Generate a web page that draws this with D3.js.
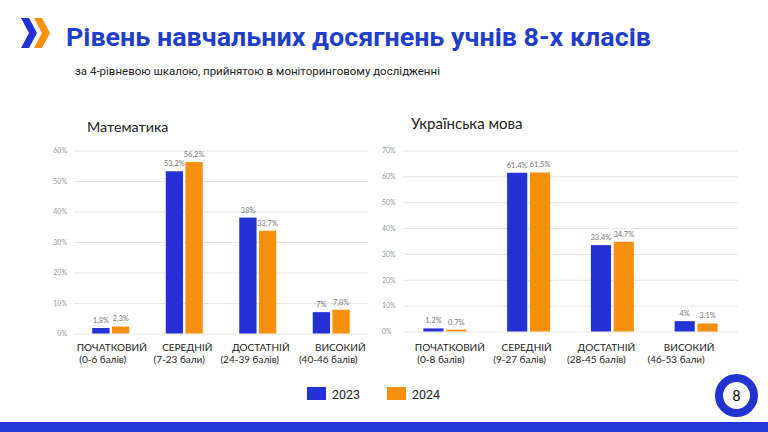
<!DOCTYPE html>
<html><head><meta charset="utf-8">
<script src="https://cdn.jsdelivr.net/npm/d3@7"></script>
<style>html,body{margin:0;padding:0;background:#fff;}svg{display:block;}</style>
</head><body>
<svg id="c" width="768" height="432"></svg>
<script>
const series = ["2023", "2024"];
const colors = ["#2431d4", "#f7900c"];

const mathCategories = ["ПОЧАТКОВИЙ", "СЕРЕДНІЙ", "ДОСТАТНІЙ", "ВИСОКИЙ"];
const mathRanges = ["(0-6 балів)", "(7-23 бали)", "(24-39 балів)", "(40-46 балів)"];
const math2023 = [1.8, 53.2, 38, 7];
const math2024 = [2.3, 56.2, 33.7, 7.8];
const mathTicks = [0, 10, 20, 30, 40, 50, 60];

const ukrCategories = ["ПОЧАТКОВИЙ", "СЕРЕДНІЙ", "ДОСТАТНІЙ", "ВИСОКИЙ"];
const ukrRanges = ["(0-8 балів)", "(9-27 балів)", "(28-45 балів)", "(46-53 бали)"];
const ukr2023 = [1.2, 61.4, 33.4, 4];
const ukr2024 = [0.7, 61.5, 34.7, 3.1];
const ukrTicks = [0, 10, 20, 30, 40, 50, 60, 70];

const svg = d3.select("#c");

// Logo chevrons
svg.append("path").attr("d","M21,18 L29,18 L37,33 L29,48 L21,48 L29,33 Z").attr("fill","#2431d4");
svg.append("path").attr("d","M34,18 L42,18 L50,33 L42,48 L34,48 L42,33 Z").attr("fill","#f7900c");

// Title
svg.append("text").attr("x",66).attr("y",46)
  .attr("font-family","Roboto").attr("font-weight","700").attr("font-size",26.5)
  .attr("textLength",585).attr("lengthAdjust","spacingAndGlyphs")
  .attr("fill","#1f3ecb").text("Рівень навчальних досягнень учнів 8-х класів");
svg.append("text").attr("x",75).attr("y",75)
  .attr("font-family","Roboto").attr("font-size",11.5).attr("fill","#222")
  .text("за 4-рівневою шкалою, прийнятою в моніторинговому дослідженні");

function chart(o){
  const g = svg.append("g");
  const x = d3.scaleBand().domain(o.cats).range([o.x0, o.x1]);
  const y = d3.scaleLinear().domain([0, o.max]).range([o.y0, o.y1]);
  const x1 = d3.scaleBand().domain(series).range([x.bandwidth()/2 - o.inner/2, x.bandwidth()/2 + o.inner/2]).paddingInner(o.pin);
  g.append("text").attr("x",o.tx).attr("y",o.ty).attr("font-family","Lato").attr("font-size",o.tfs)
    .attr("fill","#222").text(o.title);
  // grid
  g.selectAll(".grid").data(o.ticks).join("line")
    .attr("x1",o.x0).attr("x2",o.x1).attr("y1",d=>y(d)+0.5).attr("y2",d=>y(d)+0.5)
    .attr("stroke","#e6e6e6").attr("stroke-width",1);
  const yAxis = d3.axisLeft(y).tickValues(o.ticks).tickSize(0).tickFormat(d=>d+"%");
  const ya = g.append("g").attr("transform",`translate(${o.ax},0)`).call(yAxis);
  ya.select(".domain").remove();
  ya.selectAll("text").attr("font-family","Lato").attr("font-size",7).attr("fill","#999").attr("text-anchor",o.anchor).attr("x",0).attr("dy","0.32em");
  const vals = [o.a, o.b];
  o.cats.forEach((c,i)=>{
    series.forEach((s,j)=>{
      const v = vals[j][i];
      const bx = x(c) + x1(s);
      g.append("rect").attr("x",bx).attr("y",y(v)).attr("width",x1.bandwidth())
        .attr("height",y(0)-y(v)).attr("fill",colors[j]);
      g.append("text").attr("x",bx + x1.bandwidth()/2).attr("y",y(v)-5)
        .attr("text-anchor","middle").attr("font-family","Lato").attr("font-size",7.5)
        .attr("fill","#777").text(o.fmt(v));
    });
    const cx = x(c) + x.bandwidth()/2;
    g.append("text").attr("x",cx + o.d1[i]).attr("y",351).attr("text-anchor","middle")
      .attr("font-family","Lato").attr("font-size",10).attr("fill","#222").text(c);
    g.append("text").attr("x",cx + o.d2[i]).attr("y",362.5).attr("text-anchor","middle")
      .attr("font-family","Lato").attr("font-size",10).attr("fill","#222").text(o.ranges[i]);
  });
}

chart({cats:mathCategories, ranges:mathRanges, a:math2023, b:math2024, ticks:mathTicks, max:60,
  x0:74, x1:368, y0:333.5, y1:150.5, inner:37, pin:0.12, ax:67, anchor:"end",
  title:"Математика", tx:87, ty:132, tfs:14.3,
  d1:[1,3,3,9], d2:[-8,-5,-8,-3],
  fmt:v=>String(v).replace(".",",")+"%"});

chart({cats:ukrCategories, ranges:ukrRanges, a:ukr2023, b:ukr2024, ticks:ukrTicks, max:70,
  x0:403, x1:738, y0:331.5, y1:150.5, inner:43, pin:0.12, ax:382, anchor:"start",
  title:"Українська мова", tx:411, ty:129, tfs:15,
  d1:[5,-2,-6,-7], d2:[-4,-9,-16,-20],
  fmt:v=>v+"%"});

// Legend
series.forEach((s,j)=>{
  const lx = [307, 387][j];
  svg.append("rect").attr("x",lx).attr("y",387).attr("width",19).attr("height",13).attr("fill",colors[j]);
  svg.append("text").attr("x",lx+25).attr("y",399).attr("font-family","Roboto").attr("font-size",12.5)
    .attr("fill","#222").text(s);
});

// Page number
svg.append("circle").attr("cx",736.5).attr("cy",395.5).attr("r",17.5).attr("fill","#fff")
  .attr("stroke","#2233d0").attr("stroke-width",8);
svg.append("text").attr("x",736.5).attr("y",401).attr("text-anchor","middle")
  .attr("font-family","Roboto").attr("font-size",15).attr("fill","#111").text("8");

// Bottom bar
svg.append("rect").attr("x",0).attr("y",422).attr("width",768).attr("height",10).attr("fill","#2339d8");
</script>
</body></html>
